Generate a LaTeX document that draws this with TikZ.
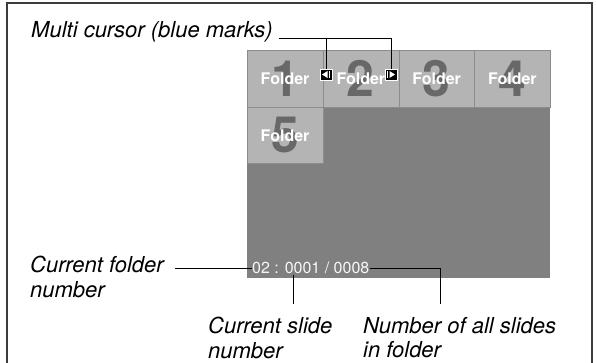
\documentclass[tikz,border=0pt]{standalone}
\usepackage{fontspec}
\setmainfont{TeX Gyre Heros}
\usetikzlibrary{positioning}
\definecolor{ScreenGray}{RGB}{128,128,128}
\definecolor{TileGray}{RGB}{180,180,180}
\definecolor{TileEdge}{RGB}{140,140,140}
\definecolor{DigitGray}{RGB}{104,104,104}
\definecolor{FrameGray}{RGB}{60,60,60}

\begin{document}
\begin{tikzpicture}[x=1pt, y=-1pt,
    callout/.style={font=\fontsize{22}{24.5}\selectfont\itshape, align=left, inner sep=0pt, anchor=north west},
    tile/.style={draw=TileEdge, fill=TileGray, minimum width=75.75pt, minimum height=56.75pt, inner sep=0pt, anchor=north west,
        font=\fontsize{50}{50}\selectfont\bfseries, text=DigitGray},
    foldername/.style={font=\fontsize{16}{16}\selectfont\bfseries, text=white, inner sep=0pt},
    cursormark/.style={fill=black, draw=white, line width=0.5pt, minimum width=12pt, minimum height=11pt, inner sep=0pt},
    leader/.style={line width=0.8pt}]
    \useasboundingbox (0,0) rectangle (597,363);

    % Frame (open at the bottom)
    \draw[FrameGray, line width=2pt] (7,370) -- (7,3) -- (592,3) -- (592,370);

    % Screen
    \fill[ScreenGray] (247,50) rectangle (550,278);

    % Folder tiles
    \foreach \n/\col/\row in {1/0/0, 2/1/0, 3/2/0, 4/3/0, 5/0/1} {
        \node[tile] (t\n) at ({247+75.75*\col}, {50+56.75*\row}) {\n};
        \node[foldername] at (t\n.center) {Folder};
    }

    % Multi cursor marks
    \node[cursormark] (curl) at (326,74.5) {};
    \fill[white] ([xshift=-4pt]curl.center) -- ([xshift=1.5pt, yshift=3.5pt]curl.center)
        -- ([xshift=1.5pt, yshift=-3.5pt]curl.center) -- cycle;
    \fill[white] ([xshift=2.6pt, yshift=-3.5pt]curl.center) rectangle ([xshift=3.9pt, yshift=3.5pt]curl.center);
    \node[cursormark] (curr) at (391,74.5) {};
    \fill[white] ([xshift=4pt]curr.center) -- ([xshift=-1.5pt, yshift=3.5pt]curr.center)
        -- ([xshift=-1.5pt, yshift=-3.5pt]curr.center) -- cycle;
    \fill[white] ([xshift=-2.6pt, yshift=-3.5pt]curr.center) rectangle ([xshift=-3.9pt, yshift=3.5pt]curr.center);

    % Status line
    \node[font=\fontsize{16}{16}\selectfont, text=white!94!gray, inner sep=0pt, anchor=base west] (info) at (252,274) {02 : 0001 / 0008};

    % Callouts
    \node[font=\fontsize{22}{24.5}\selectfont\itshape, inner sep=0pt, anchor=base west] (multi) at (31,38) {Multi cursor (blue marks)};
    \node[callout] (curfolder) at (30,256) {Current folder\\number};
    \node[callout] (curslide) at (208,317) {Current slide\\number};
    \node[callout] (allslides) at (363,317) {Number of all slides\\in folder};

    % Leaders
    \coordinate (multiend) at ([xshift=6pt]multi.base east);
    \draw[leader] (multiend) -| (curr.north);
    \draw[leader] (curl.north) -- (curl.north |- multiend);
    \coordinate (folderend) at ([xshift=11pt]curfolder.north east);
    \draw[leader] (info.west) -- (info.west -| folderend);
    \coordinate (slideend) at (293,304);
    \draw[leader] (info.south -| slideend) -- (slideend);
    \coordinate (allend) at (440,304);
    \draw[leader] (info.east) -| (allend);
\end{tikzpicture}
\end{document}
